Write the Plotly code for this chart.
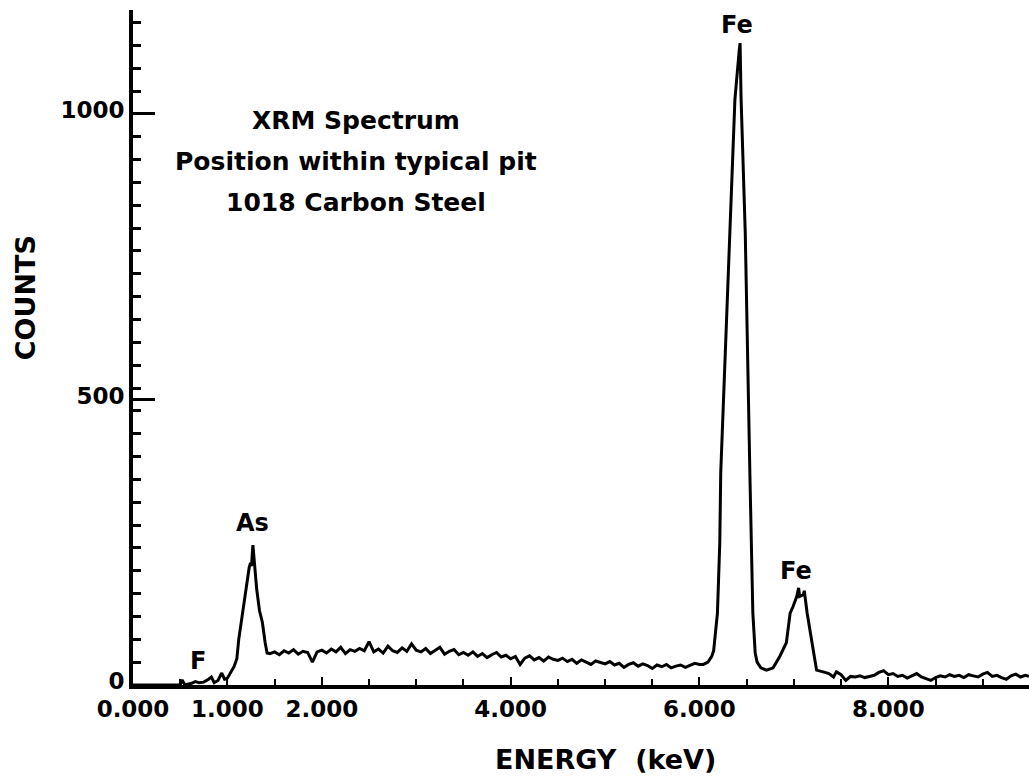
import plotly.graph_objects as go

# ---------------- data ----------------
# low-energy region incl. small F bumps
e_low = [0.00, 0.50, 0.52, 0.55, 0.62, 0.66, 0.70, 0.75, 0.80, 0.83, 0.86, 0.90, 0.94, 0.97, 1.00]
c_low = [0, 0, 9, 0, 3, 6, 4, 5, 10, 14, 4, 8, 21, 10, 12]

# As peak
e_as = [1.03, 1.07, 1.10, 1.12, 1.15, 1.18, 1.20, 1.23, 1.245, 1.255, 1.27, 1.285, 1.31, 1.34, 1.37, 1.40, 1.42]
c_as = [20, 32, 46, 80, 114, 150, 172, 205, 214, 208, 245, 214, 168, 130, 110, 74, 56]

# background 1.45 - 6.00 keV (step 0.05)
e_bg1 = [round(1.45 + 0.05 * i, 2) for i in range(92)]
c_bg1 = [55, 58, 53, 60, 56, 62, 54, 59, 57, 40, 58, 61,
         56, 63, 58, 66, 55, 62, 59, 64, 60, 76,
         58, 63, 56, 68, 60, 57, 65, 59, 72, 61,
         58, 64, 55, 60, 66, 54, 59, 62, 53, 57,
         52, 58, 50, 55, 48, 53, 57, 49, 52, 46,
         50, 36, 47, 51, 44, 48, 42, 49, 45, 43,
         47, 41, 45, 38, 44, 40, 36, 42, 39, 37,
         41, 35, 38, 31, 36, 39, 33, 37, 34, 29,
         35, 32, 36, 30, 33, 35, 31, 34, 38, 36]

# Fe K-alpha and K-beta peaks
e_fe = [6.04, 6.09, 6.13, 6.15, 6.17, 6.19, 6.205, 6.215, 6.225, 6.27, 6.325, 6.375, 6.42, 6.43,
        6.44, 6.485, 6.535, 6.55, 6.565, 6.59, 6.61, 6.65, 6.71,
        6.78, 6.82, 6.85, 6.92, 6.96, 6.99, 7.03, 7.05, 7.06, 7.10, 7.11, 7.14, 7.17, 7.21,
        7.24, 7.31, 7.37, 7.42, 7.45]
c_fe = [36, 40, 50, 60, 90, 126, 200, 250, 371, 570, 790, 1025, 1110, 1124,
        1030, 790, 360, 250, 126, 56, 40, 30, 26,
        30, 41, 50, 74, 126, 137, 155, 170, 155, 158, 165, 126, 96, 56,
        26, 23, 20, 14, 23]

# background above 7.5 keV
e_bg2 = [round(7.50 + 0.05 * i, 2) for i in range(40)] + [9.49]
c_bg2 = [18, 8, 15, 14, 16, 13, 15, 17, 22, 25,
         18, 20, 15, 17, 12, 16, 20, 14, 11, 8,
         13, 16, 14, 18, 15, 17, 13, 18, 16, 14,
         19, 22, 15, 17, 13, 10, 16, 19, 14, 17, 15]

energy = e_low + e_as + e_bg1 + e_fe + e_bg2
counts = c_low + c_as + c_bg1 + c_fe + c_bg2

x_tickvals = [0, 1, 2, 4, 6, 8]
x_ticktext = ["0.000", "1.000", "2.000", "4.000", "6.000", "8.000"]
y_tickvals = [0, 500, 1000]
y_ticktext = ["0", "500", "1000"]

peak_labels = ["F", "As", "Fe", "Fe"]
peak_x = [0.69, 1.27, 6.40, 7.02]
peak_y = [42, 284, 1156, 200]

info_lines = ["XRM Spectrum", "Position within typical pit", "1018 Carbon Steel"]
info_y = [989, 917, 845]

FONT = "DejaVu Sans"

fig = go.Figure()
fig.add_trace(go.Scatter(x=energy, y=counts, mode="lines",
                         line=dict(color="black", width=3), showlegend=False,
                         hoverinfo="skip"))

for t, xv, yv in zip(peak_labels, peak_x, peak_y):
    fig.add_annotation(x=xv, y=yv, text=t, showarrow=False, xanchor="center", yanchor="middle",
                       font=dict(family=FONT, size=24, color="black", weight="bold"))

for t, yv in zip(info_lines, info_y):
    fig.add_annotation(x=2.36, y=yv, text=t, showarrow=False, xanchor="center", yanchor="middle",
                       font=dict(family=FONT, size=25, color="black", weight="bold"))

fig.add_annotation(xref="paper", yref="paper", x=0.527, y=-0.111, text="ENERGY\u00a0 (keV)",
                   showarrow=False, xanchor="center", yanchor="middle",
                   font=dict(family=FONT, size=27, color="black", weight="bold"))
fig.add_annotation(xref="paper", yref="paper", x=-0.1205, y=0.573, text="COUNTS", textangle=-90,
                   showarrow=False, xanchor="center", yanchor="middle",
                   font=dict(family=FONT, size=27, color="black", weight="bold"))

fig.update_layout(
    width=1029, height=781,
    margin=dict(l=133, r=0, t=10, b=96),
    paper_bgcolor="white", plot_bgcolor="white",
    xaxis=dict(range=[0, 9.49], showgrid=False, zeroline=False,
               showline=True, linecolor="black", linewidth=4,
               ticks="inside", ticklen=8, tickwidth=2, tickcolor="black",
               tickvals=x_tickvals, ticktext=x_ticktext,
               tickfont=dict(family=FONT, size=23, color="black", weight="bold"),
               minor=dict(dtick=0.5, tick0=0, ticks="inside", ticklen=6, tickwidth=2, tickcolor="black")),
    yaxis=dict(range=[0, 1182], showgrid=False, zeroline=False,
               showline=True, linecolor="black", linewidth=4,
               ticks="inside", ticklen=22, tickwidth=3, tickcolor="black",
               tickvals=y_tickvals, ticktext=y_ticktext, ticklabelshift=-4,
               tickfont=dict(family=FONT, size=23, color="black", weight="bold"),
               minor=dict(dtick=40, tick0=0, ticks="inside", ticklen=8, tickwidth=3, tickcolor="black")),
)

fig.write_html("out.html")
